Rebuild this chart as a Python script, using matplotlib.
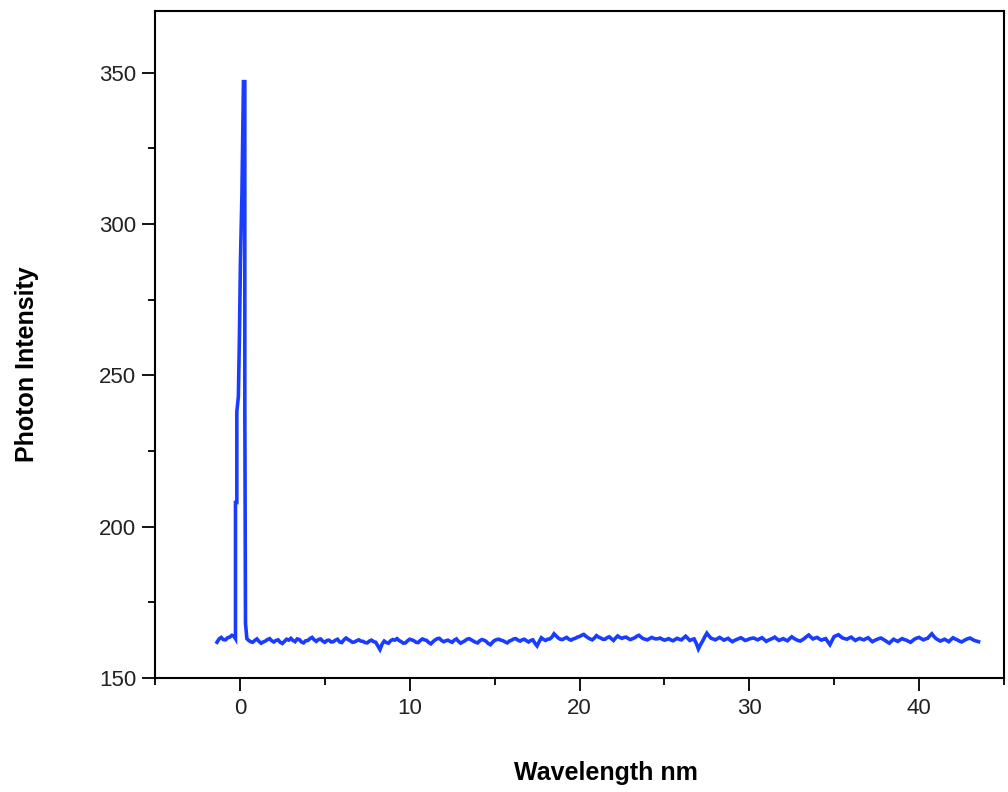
import numpy as np
import matplotlib
matplotlib.use("Agg")
import matplotlib.pyplot as plt
from matplotlib.ticker import MultipleLocator

# ---- data ----
left_start = -1.35
left_y = [161.8, 162.9, 163.4, 162.7, 162.6, 163.3, 163.5, 164.1, 163.8]

peak_x = [-0.26, -0.26, -0.18, -0.18, -0.09, -0.03, 0.03, 0.12, 0.21, 0.29, 0.29, 0.33, 0.41]
peak_y = [163.0, 208.0, 208.0, 238.0, 243.0, 262.0, 287.0, 310.0, 347.0, 347.0, 239.0, 168.0, 163.0]

base_start = 0.5
step = 0.125
base_y = [
    162.5, 162.0, 161.8, 162.4, 162.9, 162.1, 161.5, 161.9,
    162.2, 162.7, 163.0, 162.3, 161.9, 162.4, 162.6, 161.8,
    161.4, 162.1, 162.8, 162.5, 163.1, 162.4, 162.0, 162.9,
    162.7, 161.9, 161.6, 162.3, 162.4, 163.0, 163.4, 162.6,
    162.1, 162.7, 162.9, 162.2, 161.8, 162.4, 162.5, 161.9,
    162.0, 162.5, 162.8, 161.9, 161.7, 162.6, 163.2, 162.7,
    162.3, 161.8, 161.9, 162.3, 162.6, 162.2, 162.1, 161.7,
    161.6, 162.2, 162.5, 162.0, 161.8, 160.6, 159.4, 161.2,
    162.2, 161.7, 161.5, 162.3, 162.7, 162.5, 163.0, 162.4,
    162.0, 161.5, 161.6, 162.3, 162.8, 162.6, 162.3, 161.8,
    161.7, 162.4, 162.9, 162.6, 162.4, 161.7, 161.3, 162.0,
    162.6, 163.0, 163.1, 162.4, 162.0, 162.3, 162.5, 162.1,
    161.8, 162.5, 162.9, 162.1, 161.5, 161.9, 162.3, 162.8,
    163.0, 162.6, 162.2, 161.8, 161.6, 162.3, 162.7, 162.5,
    162.1, 161.4, 161.0, 161.8, 162.4, 162.7, 162.8, 162.5,
    162.3, 161.9, 161.6, 162.2, 162.5, 162.9, 163.0, 162.5,
    162.2, 162.6, 162.8, 162.3, 161.9, 162.4, 162.6, 161.5,
    160.6, 162.0, 163.3, 162.8, 162.4, 162.8, 162.9, 163.5,
    164.6, 163.9, 163.2, 162.8, 162.7, 163.1, 163.4, 162.8,
    162.5, 162.9, 163.1, 163.5, 163.7, 164.1, 164.4, 163.8,
    163.3, 162.9, 162.6, 163.2, 164.0, 163.5, 163.2, 162.8,
    162.8, 163.3, 163.6, 163.0, 162.4, 163.2, 163.9, 163.4,
    163.1, 163.4, 163.5, 163.0, 162.7, 163.0, 163.3, 163.8,
    164.1, 163.5, 163.0, 162.8, 162.6, 163.0, 163.4, 163.1,
    162.9, 163.0, 163.2, 162.8, 162.5, 162.7, 163.0, 162.6,
    162.3, 162.7, 163.1, 162.8, 162.6, 163.2, 163.8, 163.1,
    162.4, 162.7, 162.9, 161.5, 159.6, 161.0, 162.2, 163.6,
    164.8, 163.9, 163.1, 162.9, 162.6, 163.0, 163.4, 163.0,
    162.5, 162.8, 163.1, 162.5, 162.0, 162.4, 162.7, 163.0,
    163.3, 162.9, 162.4, 162.6, 162.9, 163.1, 163.2, 162.9,
    162.6, 163.0, 163.3, 162.7, 162.1, 162.5, 162.8, 163.1,
    163.5, 162.9, 162.4, 162.7, 163.0, 162.6, 162.3, 163.0,
    163.6, 163.1, 162.7, 162.4, 162.2, 162.6, 163.1, 163.7,
    164.2, 163.5, 162.9, 163.2, 163.4, 162.9, 162.5, 162.8,
    163.0, 162.0, 161.0, 162.4, 163.7, 164.0, 164.3, 163.7,
    163.2, 163.0, 162.8, 163.2, 163.5, 162.9, 162.4, 162.8,
    163.1, 162.8, 162.6, 163.0, 163.3, 162.6, 162.0, 162.4,
    162.7, 163.0, 163.2, 162.8, 162.4, 161.9, 161.5, 162.2,
    162.8, 162.4, 162.1, 162.6, 163.0, 162.7, 162.5, 162.1,
    161.8, 162.4, 162.9, 163.2, 163.4, 163.0, 162.6, 162.9,
    163.1, 163.9, 164.6, 163.7, 163.0, 162.6, 162.2, 162.5,
    162.8, 162.4, 162.0, 162.7, 163.3, 162.9, 162.6, 162.2,
    161.9, 162.3, 162.7, 163.0, 163.2, 162.8, 162.4, 162.2,
    162.0,
]

left_x = [left_start + step * i for i in range(len(left_y))]
base_x = [base_start + step * i for i in range(len(base_y))]

x = np.array(left_x + peak_x + base_x)
y = np.array(left_y + peak_y + base_y)

xticks = [0, 10, 20, 30, 40]
yticks = [150, 200, 250, 300, 350]

# ---- figure ----
plt.rcParams['font.family'] = ['Liberation Sans', 'DejaVu Sans']
fig = plt.figure(figsize=(10.08, 7.92), dpi=100)
ax = fig.add_axes([155/1008, 1 - 678/792, (1004-155)/1008, (678-10.5)/792])

ax.plot(x, y, color='#1a3cff', lw=2.6, solid_joinstyle='miter')

ax.set_xlim(-5, 45)
ax.set_ylim(150, 370.5)
ax.set_xticks(xticks)
ax.set_yticks(yticks)
ax.xaxis.set_minor_locator(MultipleLocator(5))
ax.yaxis.set_minor_locator(MultipleLocator(25))

for s in ax.spines.values():
    s.set_linewidth(1.5)
ax.tick_params(which='major', direction='out', length=9.5, width=1.3,
               labelsize=16, colors='black', top=False, right=False)
ax.tick_params(which='minor', direction='out', length=5, width=1.3,
               top=False, right=False)
ax.tick_params(axis='y', which='major', pad=4)
ax.tick_params(axis='x', which='major', pad=5)
for lab in ax.get_xticklabels() + ax.get_yticklabels():
    lab.set_color('#222222')

fig.text(606/1008, 1 - 773/792, 'Wavelength nm', ha='center', va='center',
         fontsize=18, fontweight='bold')
fig.text(27/1008, 1 - 364/792, 'Photon Intensity', ha='center', va='center',
         rotation=90, fontsize=18, fontweight='bold')

fig.savefig('out.png', dpi=100)
